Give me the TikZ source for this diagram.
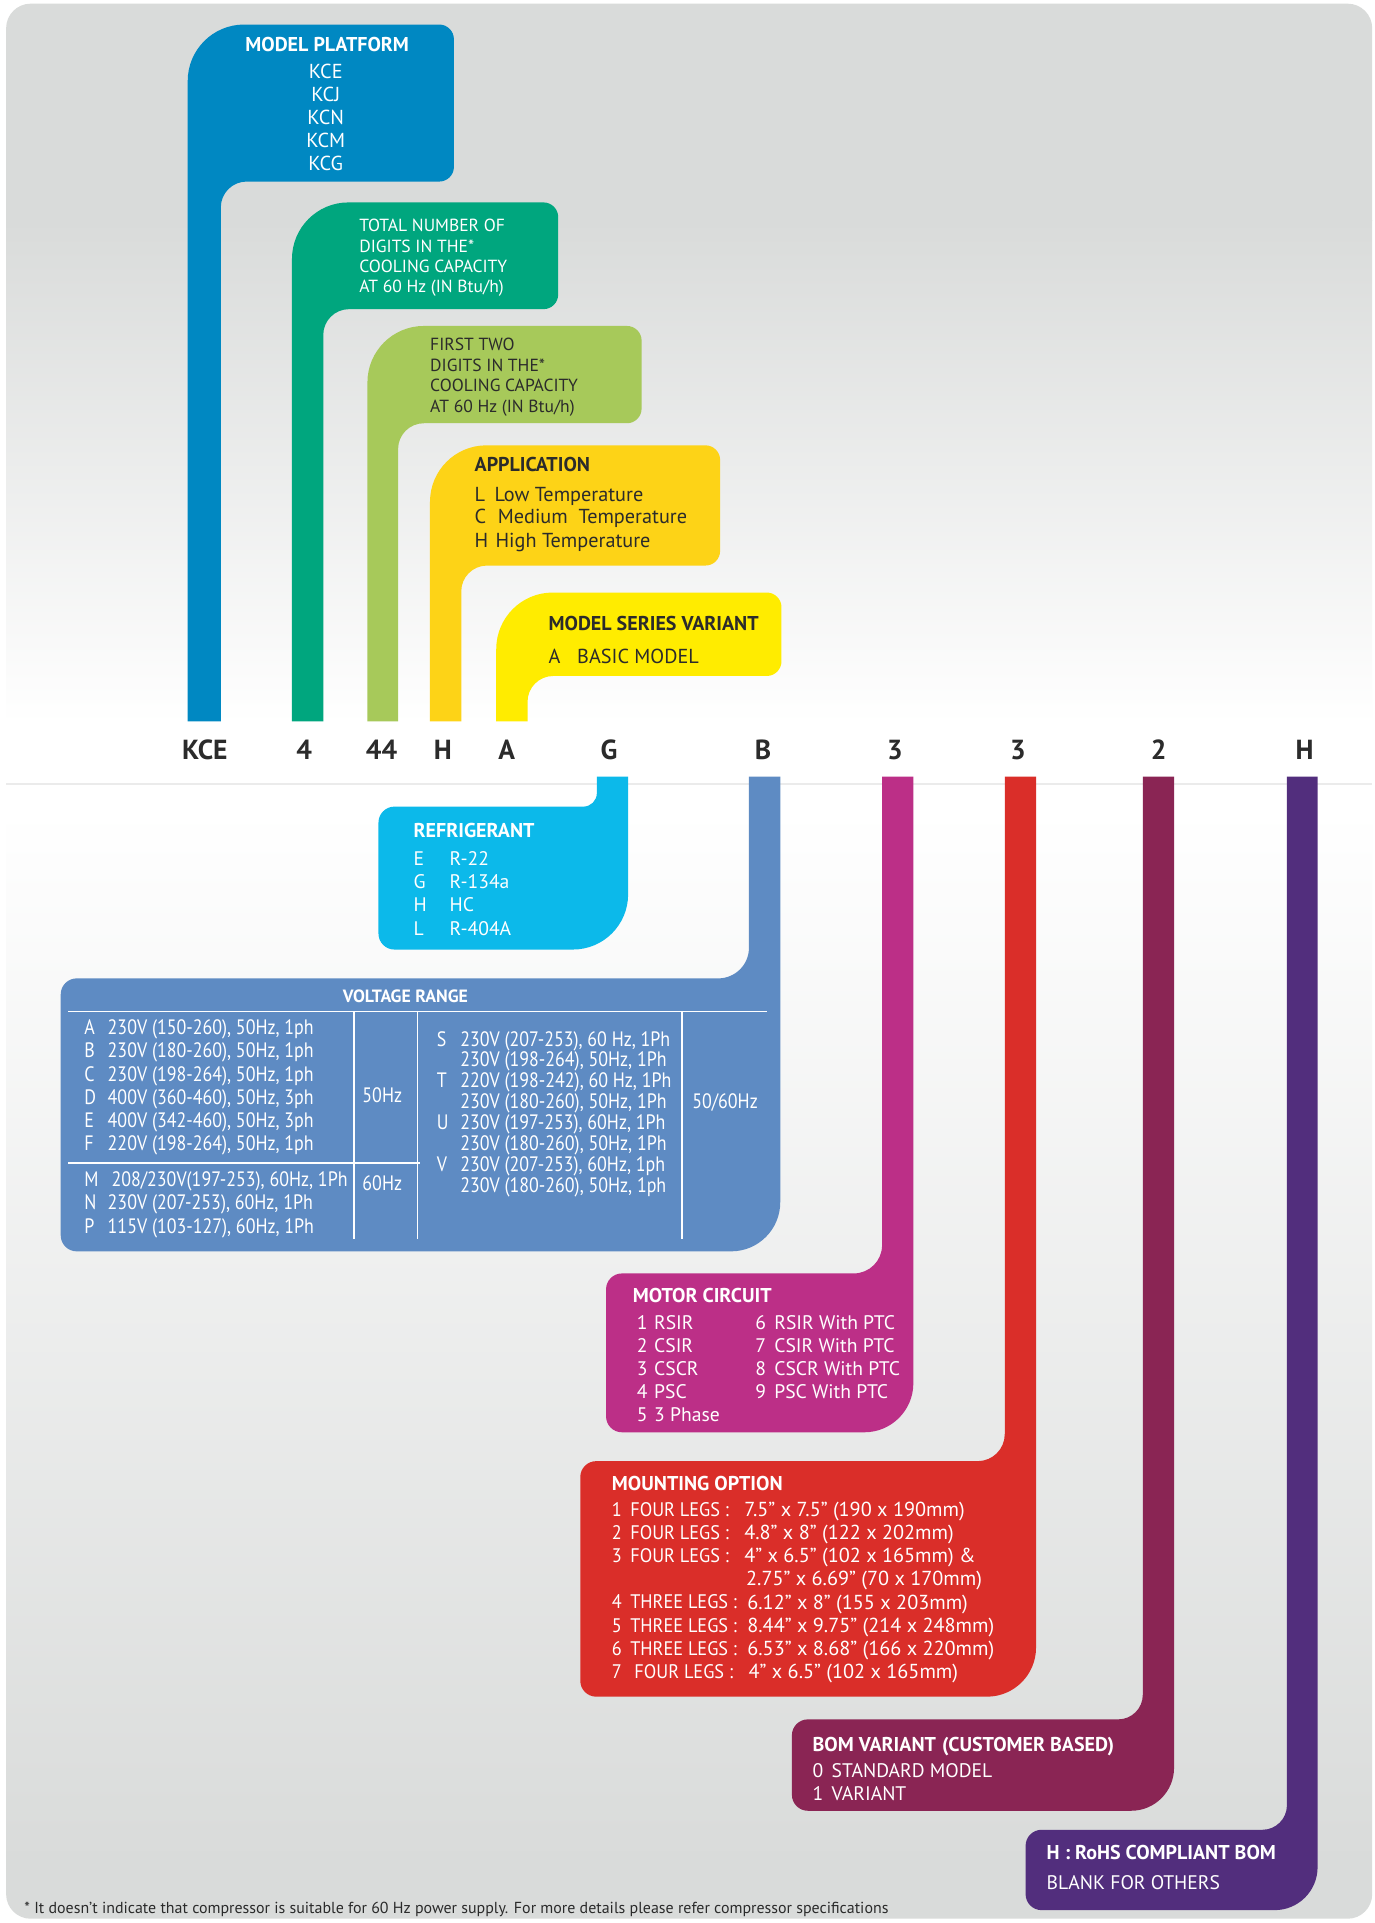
\documentclass[tikz,border=0pt]{standalone}
\usepackage{fontspec}
\setmainfont{PT Sans}
\newfontfamily\condensed[FakeStretch=0.86]{PT Sans}
\newfontfamily\semicond[FakeStretch=0.93]{PT Sans}

\definecolor{platblue}{HTML}{0088C2}
\definecolor{digitgreen}{HTML}{00A67E}
\definecolor{capgreen}{HTML}{A7C95A}
\definecolor{appyellow}{HTML}{FDD317}
\definecolor{seryellow}{HTML}{FFEC00}
\definecolor{refcyan}{HTML}{0CB9EA}
\definecolor{voltblue}{HTML}{5E8BC3}
\definecolor{motormag}{HTML}{BC2F87}
\definecolor{mountred}{HTML}{DA2E29}
\definecolor{bommaroon}{HTML}{8A2554}
\definecolor{rohspurple}{HTML}{522E7D}
\definecolor{codegray}{HTML}{2B2B2B}
\definecolor{bggray}{HTML}{D9DBDA}

% box above the code line: colour, stem left, stem right, box right, box top, box bottom
\newcommand{\upcallout}[6]{%
  \fill[#1] (#2,588) -- (#2,#5+46) arc[start angle=180,end angle=270,radius=46]
    -- (#4-12,#5) arc[start angle=270,end angle=360,radius=12]
    -- (#4,#6-12) arc[start angle=0,end angle=90,radius=12]
    -- (#3+21,#6) arc[start angle=270,end angle=180,radius=21]
    -- (#3,588) -- cycle;}
% box below the code line: colour, stem left, stem right, box left, box top, box bottom, fillet, corner
\newcommand{\downcallout}[8]{%
  \fill[#1] (#2,633) -- (#3,633) -- (#3,#6-#8) arc[start angle=0,end angle=90,radius=#8]
    -- (#4+13,#6) arc[start angle=90,end angle=180,radius=13]
    -- (#4,#5+13) arc[start angle=180,end angle=270,radius=13]
    -- (#2-#7,#5) arc[start angle=90,end angle=0,radius=#7] -- cycle;}

\begin{document}
\begin{tikzpicture}[x=1pt,y=-1pt]
        \tikzstyle{code}=[inner sep=0pt, text height=15.8pt, text depth=0pt, text=codegray, font=\bfseries\fontsize{22.5}{22.5}\selectfont]
        \tikzstyle{head}=[inner sep=0pt, anchor=west, text height=11.4pt, text depth=0pt, font=\bfseries\fontsize{16.3}{16.3}\selectfont]
        \tikzstyle{list}=[inner sep=0pt, anchor=west, text height=11.5pt, text depth=0pt, font=\fontsize{16.5}{16.5}\selectfont]
        \tikzstyle{small}=[inner sep=0pt, anchor=west, text height=10pt, text depth=0pt, font=\fontsize{14.3}{14.3}\selectfont]
        \tikzstyle{row}=[inner sep=0pt, anchor=west, text height=11.2pt, text depth=0pt, text=white, font=\fontsize{16}{16}\selectfont]
        \tikzstyle{volt}=[inner sep=0pt, anchor=west, text height=11.3pt, text depth=0pt, text=white, font=\condensed\fontsize{17}{17}\selectfont]
        \tikzstyle{note}=[inner sep=0pt, anchor=west, text height=9.1pt, text depth=0pt, text=codegray, font=\fontsize{13}{13}\selectfont]
        \tikzstyle{legs}=[inner sep=0pt, anchor=west, text height=11.2pt, text depth=0pt, text=white, font=\semicond\fontsize{16}{16}\selectfont]
        \tikzstyle{size}=[inner sep=0pt, anchor=west, text height=11.5pt, text depth=0pt, text=white, font=\fontsize{16.5}{16.5}\selectfont]
        \tikzstyle{rule}=[white, line width=1.2pt]
        \useasboundingbox (0,0) rectangle (1120,1567.5);
        \fill[white] (0,0) rectangle (1120,1567.5);
        % background
        \begin{scope}
                \clip[rounded corners=20pt] (5,3) rectangle (1118.5,1564);
                \fill[bggray] (0,0) rectangle (1120,180);
                \shade[top color=bggray, bottom color=white] (0,180) rectangle (1120,590);
                \fill[white] (0,590) rectangle (1120,660);
                \shade[top color=white, bottom color=bggray] (0,660) rectangle (1120,1520);
                \fill[bggray] (0,1520) rectangle (1120,1570);
        \end{scope}
        \draw[black!8, line width=1pt] (5,639) -- (1118,639);

        % upper boxes
        \upcallout{platblue}{153}{180}{370}{20}{148}
        \upcallout{digitgreen}{238}{263.5}{455}{165}{252}
        \upcallout{capgreen}{299.5}{324.5}{523}{265.7}{345}
        \upcallout{appyellow}{350.5}{376}{587}{363}{461}
        \upcallout{seryellow}{404.5}{430}{637}{483}{551}
        % lower boxes
        \downcallout{refcyan}{486.5}{512}{308.5}{657.5}{774}{11}{45}
        \downcallout{voltblue}{610.5}{636}{49.5}{797.5}{1020}{25}{40}
        \downcallout{motormag}{719}{744.5}{494}{1038}{1167.5}{23}{40}
        \downcallout{mountred}{819}{844.5}{473}{1191}{1383}{22}{40}
        \downcallout{bommaroon}{931.5}{957}{645.5}{1401.5}{1476}{20}{35}
        \downcallout{rohspurple}{1049}{1074}{836}{1491.5}{1557}{20}{35}

        % model code
        \node[code] (kce) at (167,611.5){KCE};
        \node[code] (d4) at (248,611.5){4};
        \node[code] (d44) at (311,611.5){44};
        \node[code] (app) at (361,611.5){H};
        \node[code] (ser) at (413,611.5){A};
        \node[code] (ref) at (496.5,611.5){G};
        \node[code] (volt) at (622,611.5){B};
        \node[code] (motor) at (729.5,611.5){3};
        \node[code] (mount) at (829.7,611.5){3};
        \node[code] (bom) at (944.4,611.5){2};
        \node[code] (rohs) at (1063.5,611.5){H};

        % model platform
        \node[head, anchor=center, text=white] (plat) at (266.7,36){MODEL PLATFORM};
        \node[list, anchor=center, text=white] (p1) at (265.5,58){KCE};
        \node[list, anchor=center, text=white] (p2) at (265.5,77){KCJ};
        \node[list, anchor=center, text=white] (p3) at (265.5,95.7){KCN};
        \node[list, anchor=center, text=white] (p4) at (265.5,114.1){KCM};
        \node[list, anchor=center, text=white] (p5) at (265.5,133.2){KCG};
        % digits
        \node[small, text=white] (g1) at (292.7,183.4){TOTAL NUMBER OF};
        \node[small, text=white] (g2) at (292.7,201){DIGITS IN THE*};
        \node[small, text=white] (g3) at (292.7,217.4){COOLING CAPACITY};
        \node[small, text=white] (g4) at (292.7,233.7){AT 60 Hz (IN Btu/h)};
        \node[small, text=codegray] (l1) at (350.5,280.7){FIRST TWO};
        \node[small, text=codegray] (l2) at (350.5,297.5){DIGITS IN THE*};
        \node[small, text=codegray] (l3) at (350.5,313.8){COOLING CAPACITY};
        \node[small, text=codegray] (l4) at (350.5,331){AT 60 Hz (IN Btu/h)};
        % application
        \node[head, text=codegray] (apphead) at (386.7,378.5){APPLICATION};
        \node[list, text=codegray] (aL) at (386.7,402.7){L};
        \node[list, text=codegray] (aLt) at (403,402.7){Low Temperature};
        \node[list, text=codegray] (aC) at (386.7,421.2){C};
        \node[list, text=codegray] (aCt) at (405.6,421.2){Medium\ \ Temperature};
        \node[list, text=codegray] (aH) at (386.7,440.2){H};
        \node[list, text=codegray] (aHt) at (403.8,440.2){High Temperature};
        % series
        \node[head, text=codegray] (serhead) at (447,508){MODEL SERIES VARIANT};
        \node[list, text=codegray] (sA) at (447,535.3){A};
        \node[list, text=codegray] (sAt) at (470.3,535.3){BASIC MODEL};

        % refrigerant
        \node[head, text=white] (refhead) at (337,677){REFRIGERANT};
        \node[row] (rE) at (337,700.2){E};
        \node[row] (rEt) at (366.3,700.2){R-22};
        \node[row] (rG) at (337,718.7){G};
        \node[row] (rGt) at (366.3,718.7){R-134a};
        \node[row] (rH) at (337,737.2){H};
        \node[row] (rHt) at (366.3,737.2){HC};
        \node[row] (rL) at (337,756.7){L};
        \node[row] (rLt) at (366.3,756.7){R-404A};

        % voltage range
        \node[head, anchor=center, text=white, font=\bfseries\fontsize{14.5}{14.5}\selectfont, text height=10pt] (volthead) at (330.5,812){VOLTAGE RANGE};
        \draw[rule] (55.6,824.7) -- (625.4,824.7);
        \draw[rule] (288.7,824.7) -- (288.7,1010.3);
        \draw[rule] (340.5,824.7) -- (340.5,1010.3);
        \draw[rule] (556,824.7) -- (556,1010.3);
        \draw[rule] (55.6,947.8) -- (342,947.8);
        \node[volt] (vA) at (68.5,837.4){A};
        \node[volt] (vAt) at (87.6,837.4){230V (150-260), 50Hz, 1ph};
        \node[volt] (vB) at (68.5,856.5){B};
        \node[volt] (vBt) at (87.6,856.5){230V (180-260), 50Hz, 1ph};
        \node[volt] (vC) at (68.5,875.5){C};
        \node[volt] (vCt) at (87.6,875.5){230V (198-264), 50Hz, 1ph};
        \node[volt] (vD) at (68.5,894.8){D};
        \node[volt] (vDt) at (87.6,894.8){400V (360-460), 50Hz, 3ph};
        \node[volt] (vE) at (68.5,913.8){E};
        \node[volt] (vEt) at (87.6,913.8){400V (342-460), 50Hz, 3ph};
        \node[volt] (vF) at (68.5,932.5){F};
        \node[volt] (vFt) at (87.6,932.5){220V (198-264), 50Hz, 1ph};
        \node[volt] (vM) at (68.5,961.4){M};
        \node[volt] (vMt) at (90.7,961.4){208/230V(197-253), 60Hz, 1Ph};
        \node[volt] (vN) at (68.5,980.4){N};
        \node[volt] (vNt) at (87.6,980.4){230V (207-253), 60Hz, 1Ph};
        \node[volt] (vP) at (68.5,999.4){P};
        \node[volt] (vPt) at (87.6,999.4){115V (103-127), 60Hz, 1Ph};
        \node[volt, anchor=center] (f50) at (311.6,893){50Hz};
        \node[volt, anchor=center] (f60) at (311.6,964.6){60Hz};
        \node[volt] (vS) at (356,847){S};
        \node[volt] (vSt) at (375,847){230V (207-253), 60 Hz, 1Ph};
        \node[volt] (vSu) at (375,864){230V (198-264), 50Hz, 1Ph};
        \node[volt] (vT) at (356,881){T};
        \node[volt] (vTt) at (375,881){220V (198-242), 60 Hz, 1Ph};
        \node[volt] (vTu) at (375,898){230V (180-260), 50Hz, 1Ph};
        \node[volt] (vU) at (356,915){U};
        \node[volt] (vUt) at (375,915){230V (197-253), 60Hz, 1Ph};
        \node[volt] (vUu) at (375,932){230V (180-260), 50Hz, 1Ph};
        \node[volt] (vV) at (356,949){V};
        \node[volt] (vVt) at (375,949){230V (207-253), 60Hz, 1ph};
        \node[volt] (vVu) at (375,966){230V (180-260), 50Hz, 1ph};
        \node[volt, anchor=center] (f5060) at (591,898){50/60Hz};

        % motor circuit
        \node[head, text=white] (motorhead) at (515.7,1055.6){MOTOR CIRCUIT};
        \node[row] (m1) at (519,1078){\makebox[14pt][l]{1}RSIR};
        \node[row] (m2) at (519,1096.6){\makebox[14pt][l]{2}CSIR};
        \node[row] (m3) at (519,1115.4){\makebox[14pt][l]{3}CSCR};
        \node[row] (m4) at (519,1134.4){\makebox[14pt][l]{4}PSC};
        \node[row] (m5) at (519,1153.4){\makebox[14pt][l]{5}3 Phase};
        \node[row] (m6) at (615.5,1078){\makebox[15.5pt][l]{6}RSIR With PTC};
        \node[row] (m7) at (615.5,1096.6){\makebox[15.5pt][l]{7}CSIR With PTC};
        \node[row] (m8) at (615.5,1115.4){\makebox[15.5pt][l]{8}CSCR With PTC};
        \node[row] (m9) at (615.5,1134.4){\makebox[15.5pt][l]{9}PSC With PTC};

        % mounting option
        \node[head, text=white] (mounthead) at (498.6,1209){MOUNTING OPTION};
        \node[legs] (o1) at (498.6,1230.3){\makebox[15pt][l]{1}FOUR LEGS :};
        \node[size] (o1t) at (606.5,1230.3){7.5” x 7.5” (190 x 190mm)};
        \node[legs] (o2) at (498.6,1249){\makebox[15pt][l]{2}FOUR LEGS :};
        \node[size] (o2t) at (606.5,1249){4.8” x 8” (122 x 202mm)};
        \node[legs] (o3) at (498.6,1268){\makebox[15pt][l]{3}FOUR LEGS :};
        \node[size] (o3t) at (606.5,1268){4” x 6.5” (102 x 165mm) \&};
        \node[size] (o3u) at (608,1286.8){2.75” x 6.69” (70 x 170mm)};
        \node[legs] (o4) at (498.6,1305.9){\makebox[15pt][l]{4}THREE LEGS :};
        \node[size] (o4t) at (609,1305.9){6.12” x 8” (155 x 203mm)};
        \node[legs] (o5) at (498.6,1325){\makebox[15pt][l]{5}THREE LEGS :};
        \node[size] (o5t) at (609,1325){8.44” x 9.75” (214 x 248mm)};
        \node[legs] (o6) at (498.6,1343.7){\makebox[15pt][l]{6}THREE LEGS :};
        \node[size] (o6t) at (609,1343.7){6.53” x 8.68” (166 x 220mm)};
        \node[legs] (o7) at (498.6,1362.7){\makebox[18.4pt][l]{7}FOUR LEGS :};
        \node[size] (o7t) at (610,1362.7){4” x 6.5” (102 x 165mm)};

        % bom variant
        \node[head, text=white] (bomhead) at (662.2,1421.6){BOM VARIANT\hspace{5pt}(CUSTOMER BASED)};
        \node[row] (b0) at (662.2,1443.3){\makebox[15.5pt][l]{0}STANDARD MODEL};
        \node[row] (b1) at (662.2,1462.3){\makebox[15.5pt][l]{1}VARIANT};
        % rohs
        \node[head, text=white] (rohshead) at (853,1510){H : RoHS COMPLIANT BOM};
        \node[row] (blank) at (853,1534.6){BLANK FOR OTHERS};

        \node[note] (foot) at (19.7,1555){* It doesn’t indicate that compressor is suitable for 60 Hz power supply. For more details please refer compressor specifications};
\end{tikzpicture}
\end{document}
